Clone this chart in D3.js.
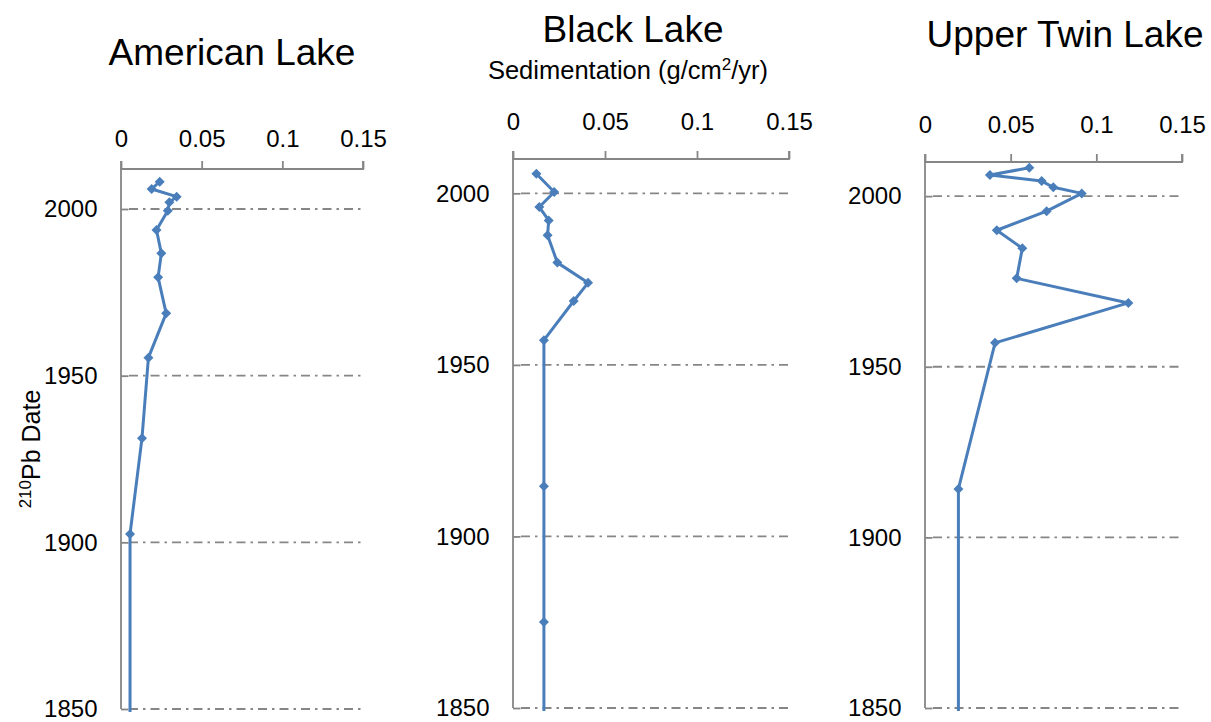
<!DOCTYPE html>
<html>
<head>
<meta charset="utf-8">
<script src="https://cdn.jsdelivr.net/npm/d3@7"></script>
<style>
  body { margin: 0; background: #fff; }
  svg { font-family: Arial, 'Liberation Sans', sans-serif; }
</style>
</head>
<body>
<svg width="1211" height="722"></svg>
<script>
// 210Pb dates and sedimentation rates (g/cm2/yr)
const americanYears = [2008.2, 2006.0, 2003.7, 2002.0, 1999.5, 1993.7, 1986.7, 1979.5, 1968.7, 1955.4, 1931.2, 1902.5, 1845]
const americanRates = [0.024, 0.019, 0.0345, 0.030, 0.029, 0.022, 0.025, 0.023, 0.028, 0.017, 0.013, 0.0056, 0.0056]

const blackYears = [2005.7, 2000.4, 1996.0, 1992.1, 1987.8, 1979.8, 1973.9, 1968.6, 1957.2, 1914.6, 1875.1, 1840]
const blackRates = [0.0127, 0.0224, 0.0143, 0.0194, 0.0188, 0.0241, 0.0408, 0.033, 0.0168, 0.0168, 0.0168, 0.0168]

const twinYears = [2008.3, 2006.2, 2004.4, 2002.6, 2000.8, 1995.6, 1990.0, 1984.7, 1975.9, 1968.7, 1957.0, 1914.2, 1840]
const twinRates = [0.0609, 0.0379, 0.0681, 0.0749, 0.0915, 0.071, 0.0419, 0.0568, 0.0535, 0.1187, 0.0409, 0.0195, 0.0195]

const xTicks = [0, 0.05, 0.1, 0.15]
const yTicks = [1850, 1900, 1950, 2000]
const lakeNames = ['American Lake', 'Black Lake', 'Upper Twin Lake']

const panels = [
  { name: lakeNames[0], years: americanYears, rates: americanRates, left: 121, right: 363, top: 169, bottom: 709, yMax: 2012, titleX: 232, titleY: 65, tickLabelGap: 22 },
  { name: lakeNames[1], years: blackYears, rates: blackRates, left: 513, right: 789, top: 159, bottom: 708, yMax: 2010, titleX: 633, titleY: 42, tickLabelGap: 29 },
  { name: lakeNames[2], years: twinYears, rates: twinRates, left: 925, right: 1182, top: 162, bottom: 708, yMax: 2010, titleX: 1065, titleY: 47, tickLabelGap: 29 },
]

const axisColor = '#868686'
const lineColor = '#4a7ebb'

const svg = d3.select('svg')

panels.forEach((p, i) => {
  const x = d3.scaleLinear().domain([0, 0.15]).range([p.left, p.right])
  const y = d3.scaleLinear().domain([1850, p.yMax]).range([p.bottom, p.top])
  const g = svg.append('g')

  // Gridlines (dash-dot)
  g.selectAll('.grid')
    .data(yTicks)
    .enter().append('line')
    .attr('x1', p.left + 8).attr('x2', p.right)
    .attr('y1', d => y(d)).attr('y2', d => y(d))
    .attr('stroke', axisColor)
    .attr('stroke-width', 1.8)
    .attr('stroke-dasharray', '9,5,2.5,5')

  // X axis on top
  const xAxis = g.append('g')
    .attr('transform', `translate(0,${p.top})`)
    .call(d3.axisTop(x).tickValues(xTicks).tickSize(8).tickPadding(p.tickLabelGap - 8).tickFormat(d3.format('~g')))
  xAxis.select('.domain').attr('d', `M${p.left},-8V0H${p.right}V-8`)

  // Y axis
  const yAxis = g.append('g')
    .attr('transform', `translate(${p.left},0)`)
    .call(d3.axisLeft(y).tickValues(yTicks).tickSize(7.5).tickPadding(16).tickFormat(d3.format('d')))
  yAxis.select('.domain').attr('d', `M0,${p.top}V${p.bottom}`)
  yAxis.selectAll('.tick line').attr('x2', 7.5)

  svg.selectAll('.domain, .tick line')
    .attr('stroke', axisColor)
    .attr('stroke-width', 1.8)
  g.selectAll('.tick text')
    .attr('fill', '#000')
    .attr('font-size', 24)
    .attr('font-family', "Arial, 'Liberation Sans', sans-serif")

  // Series, clipped to the plot area
  const clipId = `clip-${i}`
  g.append('clipPath').attr('id', clipId)
    .append('rect')
    .attr('x', p.left - 10).attr('y', p.top)
    .attr('width', p.right - p.left + 20).attr('height', p.bottom - p.top + 3)

  const points = p.years.map((yr, k) => ({ year: yr, rate: p.rates[k] }))
  const series = g.append('g').attr('clip-path', `url(#${clipId})`)

  series.append('path')
    .datum(points)
    .attr('fill', 'none')
    .attr('stroke', lineColor)
    .attr('stroke-width', 3)
    .attr('stroke-linejoin', 'round')
    .attr('d', d3.line().x(d => x(d.rate)).y(d => y(d.year)))

  series.selectAll('.marker')
    .data(points)
    .enter().append('path')
    .attr('class', 'marker')
    .attr('fill', lineColor)
    .attr('transform', d => `translate(${x(d.rate)},${y(d.year)})`)
    .attr('d', 'M0,-5L5,0L0,5L-5,0Z')

  // Title
  svg.append('text')
    .attr('x', p.titleX).attr('y', p.titleY)
    .attr('text-anchor', 'middle')
    .attr('font-size', 37)
    .text(p.name)
})

// Shared x-axis title
const sub = svg.append('text')
  .attr('x', 628).attr('y', 79)
  .attr('text-anchor', 'middle')
  .attr('font-size', 25.5)
sub.append('tspan').text('Sedimentation (g/cm')
sub.append('tspan').attr('font-size', 17).attr('dy', -9).text('2')
sub.append('tspan').attr('dy', 9).text('/yr)')

// Y-axis title
const yTitle = svg.append('text')
  .attr('transform', 'translate(40,449) rotate(-90)')
  .attr('text-anchor', 'middle')
  .attr('font-size', 25)
yTitle.append('tspan').attr('font-size', 17).attr('dy', -9).text('210')
yTitle.append('tspan').attr('dy', 9).text('Pb Date')
</script>
</body>
</html>
